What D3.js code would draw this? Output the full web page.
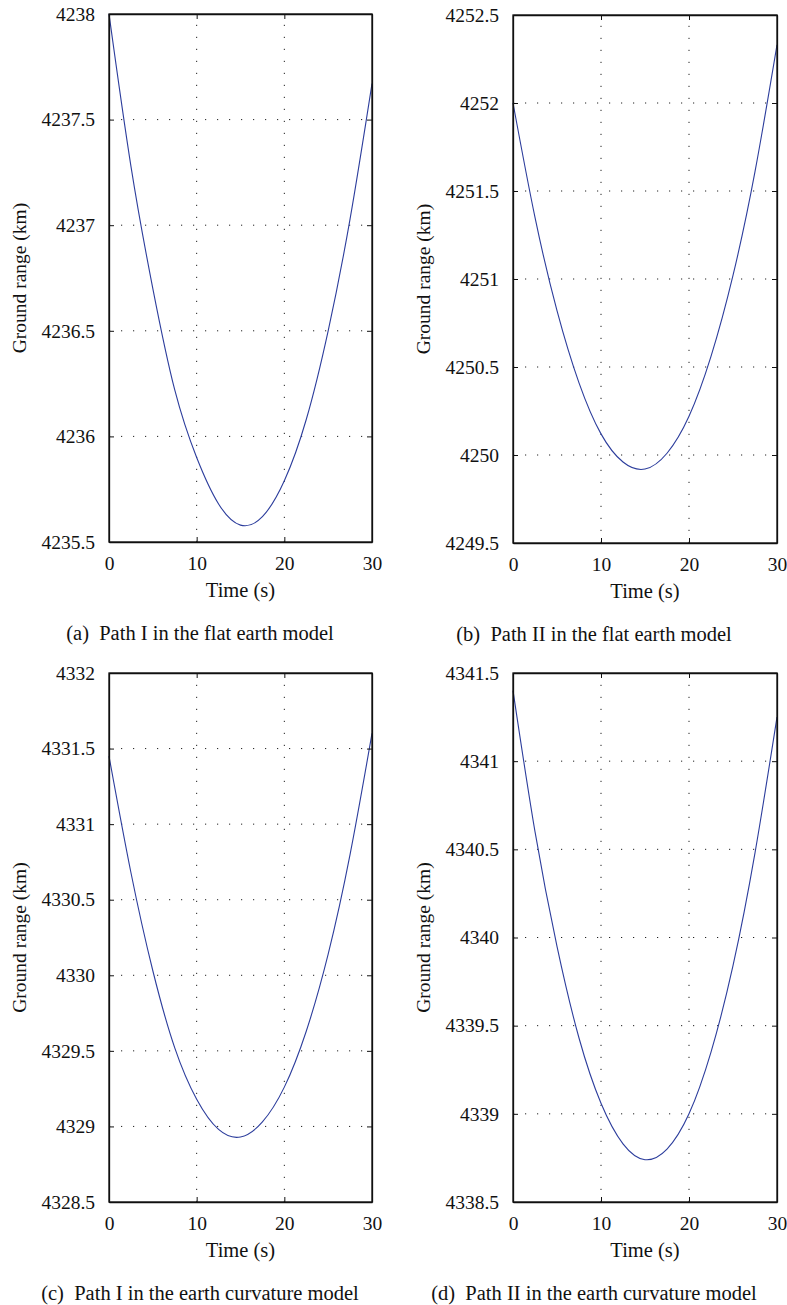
<!DOCTYPE html>
<html>
<head>
<meta charset="utf-8">
<script src="https://cdn.jsdelivr.net/npm/d3@7"></script>
<style>
  body { margin: 0; background: #fff; }
  svg text { font-family: "Liberation Serif", "DejaVu Serif", serif; fill: #111; }
</style>
</head>
<body>
<div id="graph"></div>
<script>
//tiempos muestreados (s)
var timeValues = [0, 2.5, 5, 7.5, 10, 12.5, 15, 17.5, 20, 22.5, 25, 27.5, 30];
//ground range (km)
var rangeA = [4238.0, 4237.28, 4236.70, 4236.22, 4235.90, 4235.68, 4235.58, 4235.62, 4235.79, 4236.08, 4236.50, 4237.03, 4237.67];
var rangeB = [4252.0, 4251.35, 4250.82, 4250.41, 4250.12, 4249.96, 4249.92, 4250.01, 4250.22, 4250.56, 4251.02, 4251.61, 4252.33];
var rangeC = [4331.45, 4330.68, 4330.03, 4329.52, 4329.18, 4328.98, 4328.93, 4329.03, 4329.26, 4329.63, 4330.14, 4330.80, 4331.60];
var rangeD = [4341.40, 4340.60, 4339.95, 4339.43, 4339.06, 4338.83, 4338.74, 4338.80, 4339.00, 4339.35, 4339.84, 4340.48, 4341.25];
//ticks
var xTicks = [0, 10, 20, 30];
var yTicksA = [4235.5, 4236, 4236.5, 4237, 4237.5, 4238];
var yTicksB = [4249.5, 4250, 4250.5, 4251, 4251.5, 4252, 4252.5];
var yTicksC = [4328.5, 4329, 4329.5, 4330, 4330.5, 4331, 4331.5, 4332];
var yTicksD = [4338.5, 4339, 4339.5, 4340, 4340.5, 4341, 4341.5];
//titulos
var captions = [
  "(a)\u2002Path I in the flat earth model",
  "(b)\u2002Path II in the flat earth model",
  "(c)\u2002Path I in the earth curvature model",
  "(d)\u2002Path II in the earth curvature model"
];

var panels = [
  { values: rangeA, yTicks: yTicksA, caption: captions[0], left: 109, right: 372, top: 14, bottom: 542, cx: 200 },
  { values: rangeB, yTicks: yTicksB, caption: captions[1], left: 513, right: 777, top: 15, bottom: 543, cx: 594 },
  { values: rangeC, yTicks: yTicksC, caption: captions[2], left: 109, right: 372, top: 673, bottom: 1202, cx: 200 },
  { values: rangeD, yTicks: yTicksD, caption: captions[3], left: 513, right: 777, top: 673, bottom: 1202, cx: 594 }
];

var svg = d3.select("#graph").append("svg").attr("width", 787).attr("height", 1305);

panels.forEach(function (p) {
  var xScale = d3.scaleLinear().domain([0, 30]).range([p.left, p.right]);
  var yScale = d3.scaleLinear()
    .domain([d3.min(p.yTicks), d3.max(p.yTicks)])
    .range([p.bottom, p.top]);

  var g = svg.append("g");

  //grid punteada
  g.selectAll(".vgrid")
    .data(xTicks.slice(1, -1))
    .enter()
    .append("line")
    .attr("x1", function (d) { return xScale(d); })
    .attr("x2", function (d) { return xScale(d); })
    .attr("y1", p.bottom)
    .attr("y2", p.top)
    .attr("stroke", "#222")
    .attr("stroke-width", 1)
    .attr("stroke-dasharray", "1.2,10.8");

  g.selectAll(".hgrid")
    .data(p.yTicks.slice(1, -1))
    .enter()
    .append("line")
    .attr("x1", p.left)
    .attr("x2", p.right)
    .attr("y1", function (d) { return yScale(d); })
    .attr("y2", function (d) { return yScale(d); })
    .attr("stroke", "#222")
    .attr("stroke-width", 1)
    .attr("stroke-dasharray", "1.2,10.8");

  //curva
  var line = d3.line()
    .x(function (d, i) { return xScale(timeValues[i]); })
    .y(function (d) { return yScale(d); })
    .curve(d3.curveNatural);

  g.append("path")
    .datum(p.values)
    .attr("d", line)
    .attr("fill", "none")
    .attr("stroke", "#2c3d9c")
    .attr("stroke-width", 1.1);

  //ejes
  var x_axis = d3.axisBottom(xScale).tickValues(xTicks).tickSizeInner(-5).tickSizeOuter(0).tickPadding(14).tickFormat(d3.format("d"));
  var y_axis = d3.axisLeft(yScale).tickValues(p.yTicks).tickSizeInner(-5).tickSizeOuter(0).tickPadding(14).tickFormat(function (d) { return String(d); });
  var x_top = d3.axisTop(xScale).tickValues(xTicks).tickSizeInner(-5).tickSizeOuter(0).tickFormat("");
  var y_right = d3.axisRight(yScale).tickValues(p.yTicks).tickSizeInner(-5).tickSizeOuter(0).tickFormat("");

  g.append("g").attr("transform", "translate(0," + p.bottom + ")").call(x_axis);
  g.append("g").attr("transform", "translate(" + p.left + ",0)").call(y_axis);
  g.append("g").attr("transform", "translate(0," + p.top + ")").call(x_top);
  g.append("g").attr("transform", "translate(" + p.right + ",0)").call(y_right);

  g.selectAll(".domain").attr("stroke", "#111").attr("stroke-width", 1.3);
  g.selectAll(".tick line").attr("stroke", "#111");
  g.selectAll(".tick text").style("font-size", "19.5px").attr("fill", "#111");

  //caja
  g.append("rect")
    .attr("x", p.left)
    .attr("y", p.top)
    .attr("width", p.right - p.left)
    .attr("height", p.bottom - p.top)
    .attr("fill", "none")
    .attr("stroke", "#111")
    .attr("stroke-width", 1.3);

  //etiquetas
  g.append("text")
    .attr("x", (p.left + p.right) / 2)
    .attr("y", p.bottom + 55)
    .attr("text-anchor", "middle")
    .style("font-size", "20.5px")
    .text("Time (s)");

  g.append("text")
    .attr("transform", "translate(" + (p.left - 83) + "," + (p.top + p.bottom) / 2 + ") rotate(-90)")
    .attr("text-anchor", "middle")
    .style("font-size", "19.5px")
    .text("Ground range (km)");

  g.append("text")
    .attr("x", p.cx)
    .attr("y", p.bottom + 98)
    .attr("text-anchor", "middle")
    .style("font-size", "20.5px")
    .text(p.caption);
});
</script>
</body>
</html>
